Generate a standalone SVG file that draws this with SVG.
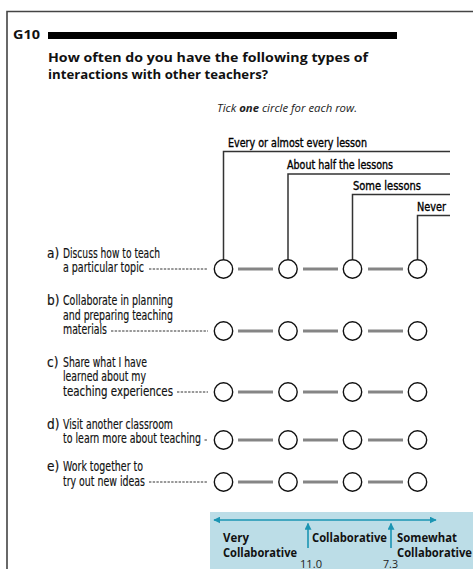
<svg xmlns="http://www.w3.org/2000/svg" width="473" height="569" viewBox="0 0 473 569">
<style>
.frame{stroke:#444;stroke-width:1.6;fill:none}
.cond{font-family:"Liberation Sans Narrow","DejaVu Sans Condensed","Roboto",sans-serif;font-size:13.5px;fill:#111;stroke:#111;stroke-width:0.15}
.hdr{font-family:"Liberation Sans Narrow","DejaVu Sans Condensed","Roboto",sans-serif;font-size:12.5px;fill:#000;stroke:#000;stroke-width:0.35}
.bold{font-family:"Open Sans","Liberation Sans",sans-serif;font-weight:bold;fill:#111}
.tick{font-family:"Open Sans","Liberation Sans",sans-serif;font-style:italic;font-size:10.5px;fill:#222}
.leg{font-family:"Open Sans","Liberation Sans",sans-serif;font-weight:bold;font-size:11.5px;fill:#111}
.num{font-family:"Open Sans","Liberation Sans",sans-serif;font-size:11px;fill:#222}
.circ{fill:#fff;stroke:#111;stroke-width:1.4}
.link{stroke:#858585;stroke-width:3}
.brk{stroke:#333;stroke-width:1.5;fill:none}
.dash{stroke:#333;stroke-width:1;stroke-dasharray:2.4 1.3}
.teal{stroke:#1b95b3;stroke-width:1.6;fill:none}
</style>
<defs>
<marker id="ah" viewBox="0 0 10 10" refX="9" refY="5" markerWidth="7" markerHeight="7" markerUnits="userSpaceOnUse" orient="auto-start-reverse">
<path d="M0,0 L10,5 L0,10 z" fill="#1b95b3"/>
</marker>
<g id="dots">
<circle class="circ" cx="223.5" cy="0" r="9.2"/>
<circle class="circ" cx="288" cy="0" r="9.2"/>
<circle class="circ" cx="352.5" cy="0" r="9.2"/>
<circle class="circ" cx="417.5" cy="0" r="9.2"/>
</g>
</defs>
<rect width="473" height="569" fill="#fff"/>
<path class="frame" d="M7,569 V11.5 H473"/>

<g id="title">
<text class="bold" x="13" y="39" font-size="12.5" textLength="27" lengthAdjust="spacingAndGlyphs">G10</text>
<rect x="48" y="32" width="349" height="7" fill="#000"/>
</g>
<g id="question">
<text class="bold" x="48" y="62" font-size="13" textLength="320" lengthAdjust="spacingAndGlyphs">How often do you have the following types of</text>
<text class="bold" x="48" y="79" font-size="13" textLength="220" lengthAdjust="spacingAndGlyphs">interactions with other teachers?</text>
</g>
<g id="instruction">
<text class="tick" x="217" y="112" textLength="140" lengthAdjust="spacingAndGlyphs">Tick <tspan font-weight="bold">one</tspan> circle for each row.</text>
</g>

<g id="headers">
<text class="hdr" x="228" y="146.5" textLength="139" lengthAdjust="spacingAndGlyphs">Every or almost every lesson</text>
<text class="hdr" x="287" y="169" textLength="106" lengthAdjust="spacingAndGlyphs">About half the lessons</text>
<text class="hdr" x="353" y="190" textLength="68" lengthAdjust="spacingAndGlyphs">Some lessons</text>
<text class="hdr" x="417" y="211" textLength="29" lengthAdjust="spacingAndGlyphs">Never</text>
</g>

<g id="connectors">
<path class="brk" d="M223.5,259.5 V151.5 H450"/>
<path class="brk" d="M288,259.5 V174 H450"/>
<path class="brk" d="M352.5,259.5 V194.5 H450"/>
<path class="brk" d="M417.5,259.5 V215.5 H450"/>
<g id="links">
<path class="link" d="M238,269 H273 M303,269 H338 M368,269 H403"/>
<path class="link" d="M238,331 H273 M303,331 H338 M368,331 H403"/>
<path class="link" d="M238,392 H273 M303,392 H338 M368,392 H403"/>
<path class="link" d="M238,440 H273 M303,440 H338 M368,440 H403"/>
<path class="link" d="M238,482 H273 M303,482 H338 M368,482 H403"/>
</g>
<path class="dash" d="M149,269 H208 M111,331 H208 M177,392 H208 M204.5,440 H208 M149,482 H208"/>
</g>

<g id="row-a">
<text class="cond" y="257.5"><tspan x="47">a)</tspan><tspan x="63" textLength="97" lengthAdjust="spacingAndGlyphs">Discuss how to teach</tspan></text>
<text class="cond" x="63" y="272" textLength="81" lengthAdjust="spacingAndGlyphs">a particular topic</text>
<use href="#dots" y="269"/>
</g>
<g id="row-b">
<text class="cond" y="305"><tspan x="47">b)</tspan><tspan x="63" textLength="110" lengthAdjust="spacingAndGlyphs">Collaborate in planning</tspan></text>
<text class="cond" x="63" y="319.5" textLength="110" lengthAdjust="spacingAndGlyphs">and preparing teaching</text>
<text class="cond" x="63" y="334" textLength="44" lengthAdjust="spacingAndGlyphs">materials</text>
<use href="#dots" y="331"/>
</g>
<g id="row-c">
<text class="cond" y="366.5"><tspan x="47">c)</tspan><tspan x="63" textLength="84" lengthAdjust="spacingAndGlyphs">Share what I have</tspan></text>
<text class="cond" x="63" y="381" textLength="83" lengthAdjust="spacingAndGlyphs">learned about my</text>
<text class="cond" x="63" y="395.5" textLength="110" lengthAdjust="spacingAndGlyphs">teaching experiences</text>
<use href="#dots" y="392"/>
</g>
<g id="row-d">
<text class="cond" y="428.5"><tspan x="47">d)</tspan><tspan x="63" textLength="110" lengthAdjust="spacingAndGlyphs">Visit another classroom</tspan></text>
<text class="cond" x="63" y="443" textLength="138" lengthAdjust="spacingAndGlyphs">to learn more about teaching</text>
<use href="#dots" y="440"/>
</g>
<g id="row-e">
<text class="cond" y="471"><tspan x="47">e)</tspan><tspan x="63" textLength="80" lengthAdjust="spacingAndGlyphs">Work together to</tspan></text>
<text class="cond" x="63" y="485.5" textLength="82" lengthAdjust="spacingAndGlyphs">try out new ideas</text>
<use href="#dots" y="482"/>
</g>

<g id="legend">
<rect x="210" y="512" width="263" height="57" fill="#bcdde7"/>
<line class="teal" x1="214" y1="520" x2="436" y2="520" marker-start="url(#ah)" marker-end="url(#ah)"/>
<line class="teal" x1="308" y1="548" x2="308" y2="523.5" marker-end="url(#ah)"/>
<line class="teal" x1="391" y1="548" x2="391" y2="523.5" marker-end="url(#ah)"/>
<text class="leg" x="223" y="542" textLength="26" lengthAdjust="spacingAndGlyphs">Very</text>
<text class="leg" x="223" y="557" textLength="74" lengthAdjust="spacingAndGlyphs">Collaborative</text>
<text class="leg" x="312" y="542" textLength="75" lengthAdjust="spacingAndGlyphs">Collaborative</text>
<text class="leg" x="397" y="542" textLength="60" lengthAdjust="spacingAndGlyphs">Somewhat</text>
<text class="leg" x="397" y="557" textLength="75" lengthAdjust="spacingAndGlyphs">Collaborative</text>
<text class="num" x="300" y="567.5" textLength="22" lengthAdjust="spacingAndGlyphs">11.0</text>
<text class="num" x="383" y="567.5" textLength="15" lengthAdjust="spacingAndGlyphs">7.3</text>
</g>
</svg>
